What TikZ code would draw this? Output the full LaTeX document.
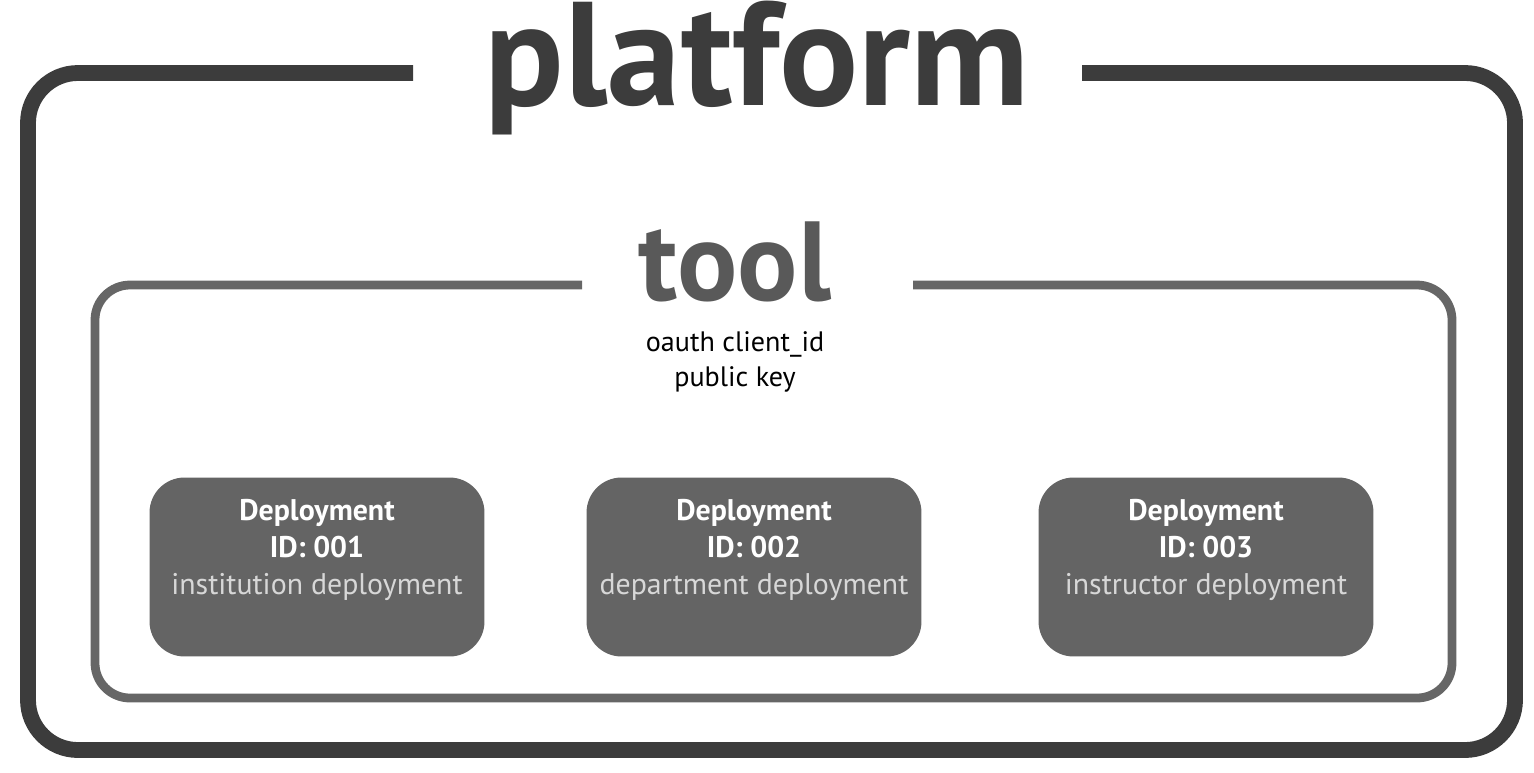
\documentclass[tikz,border=0pt]{standalone}
\usepackage{fontspec}
\setmainfont{PT Sans}
\usetikzlibrary{positioning}
\definecolor{framecolor}{RGB}{60,60,60}
\definecolor{toolcolor}{RGB}{102,102,102}
\definecolor{boxcolor}{RGB}{100,100,100}
\definecolor{softtext}{RGB}{215,215,215}

\begin{document}
\begin{tikzpicture}[x=0.02cm, y=-0.02cm]
\tikzset{
  outer/.style={draw=framecolor, line width=9pt, rounded corners=1cm},
  inner/.style={draw=toolcolor, line width=5pt, rounded corners=0.7cm},
  depbox/.style={fill=boxcolor, rounded corners=0.7cm, minimum width=6.7cm, minimum height=3.58cm},
  deptext/.style={align=center, text=white, font=\fontsize{17}{21}\selectfont},
}
\useasboundingbox (0,0) rectangle (1534,772);

% platform frame
\node [text=framecolor, font=\bfseries\fontsize{84}{86}\selectfont] (title) at (757,68) {platform};
\coordinate (pl) at (413,73);
\coordinate (pr) at (1082,73);
\draw [outer] (pl) -- (28,73) -- (28,750) -- (1515,750) -- (1515,73) -- (pr);

% tool frame
\node [text=framecolor!85, font=\bfseries\fontsize{64}{66}\selectfont] (tool) at (735,262) {tool};
\node [align=center, font=\fontsize{16}{20}\selectfont] (keys) at (735,362) {oauth client\_id\\public key};
\coordinate (tl) at (582,285);
\coordinate (tr) at (913,285);
\draw [inner] (tl) -- (95,285) -- (95,698) -- (1452,698) -- (1452,285) -- (tr);

% deployments
\node [depbox] (d1) at (317,567) {};
\node [depbox] (d2) at (754,567) {};
\node [depbox] (d3) at (1206,567) {};

\node [deptext] (t1) at ([yshift=0.34cm]d1.center) {\textbf{Deployment}\\\textbf{ID: 001}\\\textcolor{softtext}{institution deployment}};
\node [deptext] (t2) at ([yshift=0.34cm]d2.center) {\textbf{Deployment}\\\textbf{ID: 002}\\\textcolor{softtext}{department deployment}};
\node [deptext] (t3) at ([yshift=0.34cm]d3.center) {\textbf{Deployment}\\\textbf{ID: 003}\\\textcolor{softtext}{instructor deployment}};

\end{tikzpicture}
\end{document}
